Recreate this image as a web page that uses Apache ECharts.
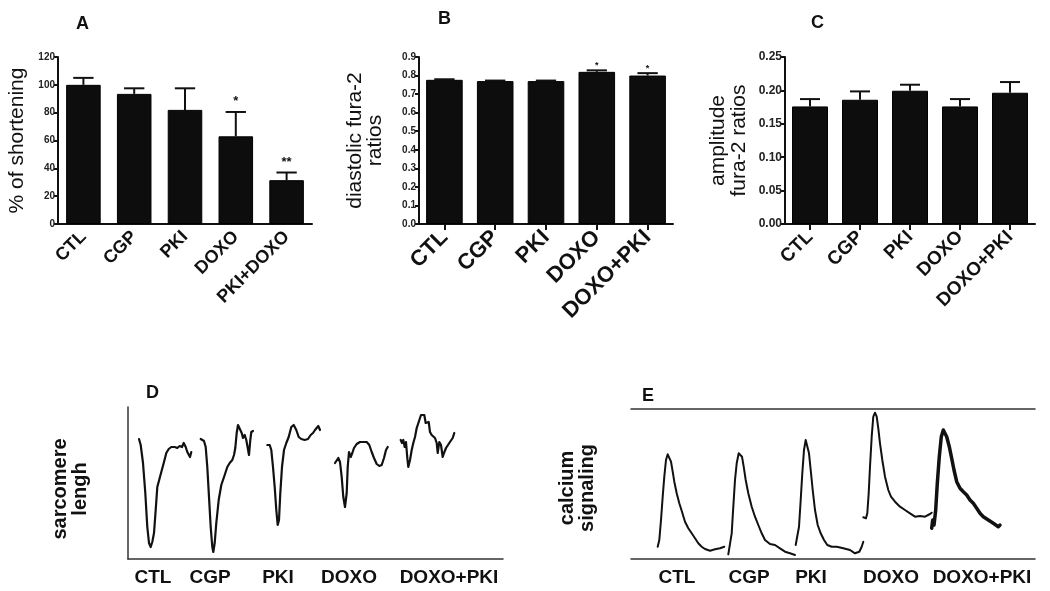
<!DOCTYPE html>
<html><head><meta charset="utf-8">
<script src="https://cdn.jsdelivr.net/npm/echarts@6/dist/echarts.min.js"></script>
<style>html,body{margin:0;padding:0;background:#fff}#c{width:1050px;height:591px}</style>
</head><body><div id="c"></div>
<script>
// ---------- DATA ----------
const catsA = ['CTL', 'CGP', 'PKI', 'DOXO', 'PKI+DOXO'];
const catsBC = ['CTL', 'CGP', 'PKI', 'DOXO', 'DOXO+PKI'];

const shortening = [100, 93.5, 82, 63, 31.5];
const shorteningTop = [105, 97.5, 97.5, 80.5, 37];
const shorteningSig = ['', '', '', '*', '**'];

const diastolic = [0.777, 0.770, 0.770, 0.820, 0.800];
const diastolicTop = [0.780, 0.773, 0.773, 0.828, 0.813];
const diastolicSig = ['', '', '', '*', '*'];

const amplitude = [0.176, 0.186, 0.1995, 0.176, 0.1965];
const amplitudeTop = [0.187, 0.1985, 0.2085, 0.187, 0.2125];
const amplitudeSig = ['', '', '', '', ''];

const yTicksA = [0, 120, 20];
const yTicksB = [0, 0.9, 0.1];
const yTicksC = [0, 0.25, 0.05];

// Panel D: sarcomere length traces (arbitrary units)
const traceNames = ['CTL', 'CGP', 'PKI', 'DOXO', 'DOXO+PKI'];
const D_labelPos = [25, 82, 150, 221, 321];
const D_CTL = [[11,120],[12.7,114],[15,96],[17.3,66],[19.3,32],[21,16],[22.7,12],[24.3,17],[26,26],[27.7,49],[29.3,72],[31.7,81],[33.3,87],[36,97],[38.3,106],[40.7,110],[43.3,112],[46.7,112],[49.3,111],[51.7,113],[54,112],[55.7,116],[57.7,112],[59.3,107],[61,109],[62,102],[63.3,107]];
const D_CGP = [[72.7,120],[76,118],[77.7,112],[79.3,92],[81,62],[82.7,32],[84.3,12],[85.3,7],[86.7,16],[88.3,36],[90.7,59],[93.3,74],[96.7,84],[99.3,92],[101.7,96],[104.3,99],[106,104],[107.3,111],[108.7,126],[110,134],[112,136],[113.7,126],[115,121],[116.7,124],[118.3,119],[120,121],[121,104],[122.3,119],[123.3,127],[125,128]];
const D_PKI = [[139.3,114],[141.7,114],[143.3,109],[145,92],[146.7,72],[148.3,49],[149.7,34],[151,39],[152.3,66],[154,92],[156,109],[158.3,116],[160.7,122],[163.3,132],[165.7,134],[168.3,129],[170.7,122],[173.3,120],[176.7,119],[180,120],[182.7,124],[185,126],[187,129],[190.3,133],[192,129]];
const D_DOXO = [[207,96],[210.3,101],[212,97],[213.7,82],[215.3,62],[217,52],[218.7,66],[219.7,92],[221,107],[222.7,102],[224.3,106],[226,111],[228.7,115],[232,117],[235.3,117],[238.7,117],[241.3,114],[243.7,107],[246,101],[248.7,95],[251.3,93],[253.7,94],[256,101],[258,109],[259.7,112]];
const D_DOXOPKI = [[272.7,119],[274,116],[275.3,119],[276.7,112],[278,117],[279.3,101],[280.3,92],[282,99],[283.7,109],[285.3,116],[287,122],[288.7,131],[290.7,137],[293,144],[294.7,146],[296.3,144],[297.7,136],[299.3,134],[300.7,137],[302,127],[303.7,124],[305.3,122],[307,121],[308.7,116],[309.7,106],[311.3,117],[313,114],[314.7,102],[316,106],[318,111],[319.7,112],[321.3,116],[323,114],[324.7,121],[326.3,126]];

// Panel E: calcium signaling traces (arbitrary units)
const E_labelPos = [46, 118, 180, 260, 351];
const E_CTL = [[26.7,12.3],[28.3,19],[30,39],[31.7,62.3],[33.3,82.3],[35,99],[36.7,104.7],[38.3,104],[40,97.3],[41.7,87.3],[43.3,77.3],[45.7,65.7],[48.3,55.7],[51,47.3],[54,37.3],[57.3,30.7],[60.7,25.7],[64,20.7],[67.3,15.7],[70.7,12.3],[74,10],[79,8.3],[84,9.7],[89,10.7],[93.3,12.3]];
const E_CGP = [[97.3,4.7],[99,5.7],[100.7,25.7],[102.3,52.3],[104,79],[105.7,95.7],[107.7,105.7],[109.3,107.3],[111,102.3],[112.7,92.3],[114.7,79],[117.3,65.7],[120.7,52.3],[124,42.3],[127.3,34],[130.7,25.7],[134,19],[139,15],[144,14],[149,10.7],[154,7.3],[159,5.7],[164,4]];
const E_PKI = [[164.7,14],[166.3,15.7],[168,32.3],[169.7,59],[171.3,85.7],[173,109],[174.7,119],[176.3,117.3],[178,105.7],[179.7,89],[181.7,69],[184,49],[186.7,34],[189.7,25.7],[193,19],[196.3,14],[200.7,12.3],[205.7,12.3],[212.3,10.7],[219,9],[224,5.7],[228.3,7.3],[230.7,12.3],[232.3,17.3]];
const E_DOXO = [[232.3,41.7],[235,40.7],[236.3,45.7],[237.7,65.7],[239,92.3],[240.7,122.3],[242.3,142.3],[244,146.3],[245.7,142.3],[247.3,130.7],[249,115.7],[251.3,99],[254,82.3],[257.3,69],[260,62.3],[264,57.3],[269,52.3],[274,49],[279,45.7],[284,42.3],[289,43],[294,42.3],[299,45],[300.7,46.3]];
const E_DOXOPKI = [[300.7,30.7],[301.7,39],[303,34],[304.7,49],[306.3,75.7],[308.3,102.3],[310.3,122.3],[312.3,129],[314,127.3],[315.7,122.3],[318.3,112.3],[320.7,100.7],[323,89],[325.7,77.3],[329,70.7],[332.3,67.3],[335.7,64],[339,59],[342.3,55.7],[345.7,50.7],[349,45.7],[352.3,42.3],[357.3,39],[362.3,35.7],[367.3,32.3],[369,34]];

// ---------- CHART ----------
const FONT = '"Liberation Sans", Arial, Helvetica, sans-serif';
const chart = echarts.init(document.getElementById('c'), null, {renderer: 'canvas'});

function barAxisY(idx, ticks, dec, name, gap, lsize, nsize, lh) {
  return {
    type: 'value', gridIndex: idx, min: ticks[0], max: ticks[1], interval: ticks[2],
    name: name, nameLocation: 'middle', nameRotate: 90, nameGap: gap,
    nameTextStyle: {fontFamily: FONT, fontSize: nsize, color: '#111', lineHeight: lh, align: 'center'},
    axisLine: {show: true, lineStyle: {color: '#111', width: 2}},
    axisTick: {show: true, length: 4, lineStyle: {color: '#111', width: 2}},
    axisLabel: {fontFamily: FONT, fontWeight: 'bold', fontSize: lsize, color: '#222', margin: 3,
      formatter: v => dec >= 0 ? v.toFixed(dec) : String(v)},
    splitLine: {show: false}
  };
}
function barAxisX(idx, cats, fsize, ticks) {
  return {
    type: 'category', gridIndex: idx, data: cats,
    axisLine: {show: true, lineStyle: {color: '#111', width: 2}},
    axisTick: {show: ticks, alignWithLabel: true, length: 6, lineStyle: {color: '#111', width: 2}},
    axisLabel: {rotate: 45, interval: 0, fontFamily: FONT, fontWeight: 'bold', fontSize: fsize, color: '#111', margin: 10}
  };
}
function errSeries(idx, vals, tops, sigs, capFrac, sigSize, sigGap) {
  return {
    type: 'custom', xAxisIndex: idx, yAxisIndex: idx, z: 5,
    data: vals.map((v, i) => [i, v, tops[i]]),
    renderItem: function (params, api) {
      const i = api.value(0);
      const p0 = api.coord([i, api.value(1)]);
      const p1 = api.coord([i, api.value(2)]);
      const hw = api.size([1, 0])[0] * capFrac / 2;
      const st = {stroke: '#111', lineWidth: 2};
      const ch = [
        {type: 'line', shape: {x1: p0[0], y1: p0[1], x2: p1[0], y2: p1[1]}, style: st},
        {type: 'line', shape: {x1: p1[0] - hw, y1: p1[1], x2: p1[0] + hw, y2: p1[1]}, style: st}
      ];
      const s = sigs[params.dataIndex];
      if (s) ch.push({type: 'text', style: {text: s, x: p1[0], y: p1[1] - sigGap, align: 'center', verticalAlign: 'bottom',
        font: 'bold ' + sigSize + 'px ' + FONT, fill: '#111'}});
      return {type: 'group', children: ch};
    }
  };
}
function barSeries(idx, vals, w) {
  return {type: 'bar', xAxisIndex: idx, yAxisIndex: idx, data: vals, barWidth: w,
    itemStyle: {color: '#0d0d0d', borderColor: '#000', borderWidth: 1}, silent: true};
}
function traceSeries(axX, axY, data, lw) {
  return {type: 'line', xAxisIndex: axX, yAxisIndex: axY, data: data, showSymbol: false, symbol: 'none',
    lineStyle: {color: '#111', width: lw, join: 'round', cap: 'round'}, silent: true, animation: false};
}
function labelFmt(pos, names) {
  return v => { const i = pos.findIndex(p => Math.abs(p - v) < 0.01); return i >= 0 ? names[i] : ''; };
}
function letter(t, x, y) {
  return {type: 'text', left: x, top: y, style: {text: t, font: 'bold 18px ' + FONT, fill: '#111'}};
}

const option = {
  backgroundColor: '#fff',
  animation: false,
  textStyle: {fontFamily: FONT},
  graphic: [letter('A', 76, 15), letter('B', 438, 10), letter('C', 811, 14), letter('D', 146, 384), letter('E', 642, 387)],
  grid: [
    {left: 58, top: 57, width: 254, height: 167, outerBoundsMode: 'none'},
    {left: 419, top: 57, width: 254, height: 167, outerBoundsMode: 'none'},
    {left: 785, top: 57, width: 250, height: 167, outerBoundsMode: 'none'},
    {left: 128, top: 407, width: 375, height: 152, outerBoundsMode: 'none'},
    {left: 631, top: 409, width: 404, height: 150, outerBoundsMode: 'none'}
  ],
  xAxis: [
    barAxisX(0, catsA, 18, false),
    barAxisX(1, catsBC, 22, true),
    barAxisX(2, catsBC, 19, true),
    {type: 'value', gridIndex: 3, min: 0, max: 375,
      axisLine: {show: true, onZero: false, lineStyle: {color: '#333', width: 1.5}}, axisTick: {show: false}, splitLine: {show: false},
      axisLabel: {customValues: D_labelPos, formatter: labelFmt(D_labelPos, traceNames), fontFamily: FONT, fontWeight: 'bold', fontSize: 19, color: '#111', margin: 9, showMinLabel: true, showMaxLabel: true}},
    {type: 'value', gridIndex: 4, min: 0, max: 404, position: 'bottom',
      axisLine: {show: true, onZero: false, lineStyle: {color: '#333', width: 1.5}}, axisTick: {show: false}, splitLine: {show: false},
      axisLabel: {customValues: E_labelPos, formatter: labelFmt(E_labelPos, traceNames), fontFamily: FONT, fontWeight: 'bold', fontSize: 19, color: '#111', margin: 9, showMinLabel: true, showMaxLabel: true}},
    {type: 'value', gridIndex: 4, min: 0, max: 404, position: 'top',
      axisLine: {show: true, onZero: false, lineStyle: {color: '#333', width: 1.5}}, axisTick: {show: false}, axisLabel: {show: false}, splitLine: {show: false}}
  ],
  yAxis: [
    barAxisY(0, yTicksA, -1, '% of shortening', 30, 10, 21, 22),
    barAxisY(1, yTicksB, 1, 'diastolic fura-2\nratios', 34, 10, 21, 20),
    barAxisY(2, yTicksC, 2, 'amplitude\nfura-2 ratios', 35, 12, 21, 21),
    {type: 'value', gridIndex: 3, min: 0, max: 152, name: 'sarcomere\nlengh', nameLocation: 'middle', nameRotate: 90, nameGap: 38,
      nameTextStyle: {fontFamily: FONT, fontWeight: 'bold', fontSize: 20, color: '#111', lineHeight: 20, align: 'center', padding: [0, 12, 0, 0]},
      axisLine: {show: true, onZero: false, lineStyle: {color: '#333', width: 1.5}}, axisTick: {show: false}, axisLabel: {show: false}, splitLine: {show: false}},
    {type: 'value', gridIndex: 4, min: 0, max: 150, name: 'calcium\nsignaling', nameLocation: 'middle', nameRotate: 90, nameGap: 34,
      nameTextStyle: {fontFamily: FONT, fontWeight: 'bold', fontSize: 20, color: '#111', lineHeight: 20, align: 'center', padding: [0, 8, 0, 0]},
      axisLine: {show: false}, axisTick: {show: false}, axisLabel: {show: false}, splitLine: {show: false}}
  ],
  series: [
    barSeries(0, shortening, '68%'),
    errSeries(0, shortening, shorteningTop, shorteningSig, 0.4, 13, 4),
    barSeries(1, diastolic, '72%'),
    errSeries(1, diastolic, diastolicTop, diastolicSig, 0.4, 9, 0),
    barSeries(2, amplitude, '72%'),
    errSeries(2, amplitude, amplitudeTop, amplitudeSig, 0.4, 9, 0),
    traceSeries(3, 3, D_CTL, 2.2),
    traceSeries(3, 3, D_CGP, 2.2),
    traceSeries(3, 3, D_PKI, 2.2),
    traceSeries(3, 3, D_DOXO, 2.2),
    traceSeries(3, 3, D_DOXOPKI, 2.2),
    traceSeries(4, 4, E_CTL, 2),
    traceSeries(4, 4, E_CGP, 2),
    traceSeries(4, 4, E_PKI, 2),
    traceSeries(4, 4, E_DOXO, 2),
    traceSeries(4, 4, E_DOXOPKI, 3.5)
  ]
};
chart.setOption(option);
</script>
</body></html>
